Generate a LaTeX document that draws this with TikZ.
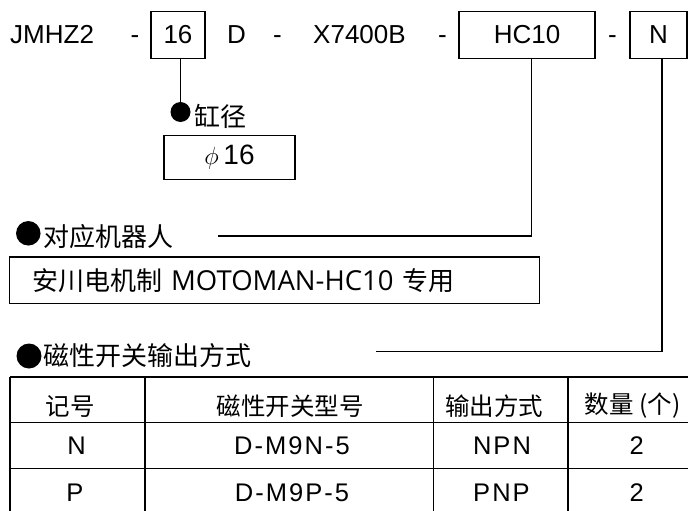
\documentclass[tikz,border=0pt]{standalone}
\usepackage{fontspec}
\setmainfont{Liberation Sans}
\newfontfamily\cjk{Noto Sans CJK SC}
\newfontfamily\latinwide{Open Sans}
\newfontfamily\tabfont[LetterSpace=8]{Liberation Sans}
\usepackage{tikz}
\usetikzlibrary{positioning}

\tikzset{
  codebox/.style={draw, line width=1.3pt, inner sep=0pt, font=\fontsize{26}{30}\selectfont},
  infobox/.style={draw, line width=1.3pt, inner sep=0pt},
  bulletdot/.style={circle, fill=black, inner sep=0pt},
  conn/.style={line width=1.3pt},
  gridline/.style={line width=1.3pt},
  toptext/.style={inner sep=0pt, font=\fontsize{26}{30}\selectfont},
  cntext/.style={inner sep=0pt, font=\cjk\fontsize{26}{30}\selectfont},
  cellcn/.style={inner sep=0pt, font=\cjk\fontsize{24.5}{28}\selectfont},
  celltxt/.style={inner sep=0pt, font=\tabfont\fontsize{25.5}{28}\selectfont}
}

\begin{document}
\begin{tikzpicture}[x=1pt,y=1pt,yscale=-1,xscale=1]
\clip (0,0) rectangle (688,511);

% Text Node
\draw (10,43.3) node [anchor=base west][toptext] (series) {JMHZ2};
% Text Node
\draw (135,43.3) node [anchor=base][toptext] (sepA) {-};
%Shape: Rectangle
\draw (178,34.7) node [codebox, minimum width=54, minimum height=47] (bore) {16};
% Text Node
\draw (227,43.3) node [anchor=base west][toptext] (mount) {D};
% Text Node
\draw (277.5,43.3) node [anchor=base][toptext] (sepB) {-};
% Text Node
\draw (313,43.3) node [anchor=base west][toptext] (stroke) {X7400B};
% Text Node
\draw (442.5,43.3) node [anchor=base][toptext] (sepC) {-};
%Shape: Rectangle
\draw (527,34.7) node [codebox, minimum width=136, minimum height=47] (robot) {HC10};
% Text Node
\draw (612.5,43.3) node [anchor=base][toptext] (sepD) {-};
%Shape: Rectangle
\draw (658.5,34.7) node [codebox, minimum width=57, minimum height=47] (sw) {N};

%Shape: Circle
\draw (180.5,112) node [bulletdot, minimum size=20] (boredot) {};
% Text Node
\draw (194,116.5) node [anchor=west][cntext] (borelabel) {缸径};
%Shape: Rectangle
\draw (229.5,157.2) node [infobox, minimum width=131, minimum height=44, font=\fontsize{28}{30}\selectfont] (boreval) {$\phi$\,16};

%Shape: Circle
\draw (28.3,233.3) node [bulletdot, minimum size=24.5] (robotdot) {};
% Text Node
\draw (43,236.5) node [anchor=west][cntext] (robotlabel) {对应机器人};
%Shape: Rectangle
\draw (274.5,280.3) node [infobox, minimum width=530.4, minimum height=46.5, text width=484, align=left, font=\cjk\fontsize{26}{30}\selectfont] (robotval) {安川电机制{\latinwide\fontsize{27.5}{30}\selectfont{} MOTOMAN-HC10 }专用};

%Shape: Circle
\draw (29,356) node [bulletdot, minimum size=25] (swdot) {};
% Text Node
\draw (43,355.5) node [anchor=west][cntext] (swlabel) {磁性开关输出方式};

%Straight Lines
\draw [conn] (bore.south -| boredot) -- (boredot);
\coordinate (robotend) at (218,236);
\draw [conn] ([xshift=4.7pt]robot.south) |- (robotend);
\coordinate (swend) at (376,351.7);
\draw [conn] ([xshift=3.5pt]sw.south) |- (swend);

%Straight Lines
\draw [gridline] (10,377) -- (700,377);
\draw [gridline] (10,422.7) -- (700,422.7);
\draw [gridline] (10,468.3) -- (700,468.3);
\draw [gridline] (10,377) -- (10,520);
\draw [gridline] (145,377) -- (145,520);
\draw [gridline] (433.5,377) -- (433.5,520);
\draw [gridline] (568,377) -- (568,520);

% Text Node
\draw (70,406) node [cellcn] (hsym) {记号};
\draw (290,406) node [cellcn] (hmodel) {磁性开关型号};
\draw (494,406) node [cellcn] (hout) {输出方式};
\draw (632.5,406) node [cellcn] (hqty) {数量 (个)};
% Text Node
\draw (76.5,446) node [celltxt] (nsym) {N};
\draw (292,446) node [celltxt] (nmodel) {D-M9N-5};
\draw (502,446) node [celltxt] (nout) {NPN};
\draw (636.7,446) node [celltxt] (nqty) {2};
% Text Node
\draw (75,492.7) node [celltxt] (psym) {P};
\draw (292,492.7) node [celltxt] (pmodel) {D-M9P-5};
\draw (501.5,492.7) node [celltxt] (pout) {PNP};
\draw (636.7,492.7) node [celltxt] (pqty) {2};

\end{tikzpicture}
\end{document}
